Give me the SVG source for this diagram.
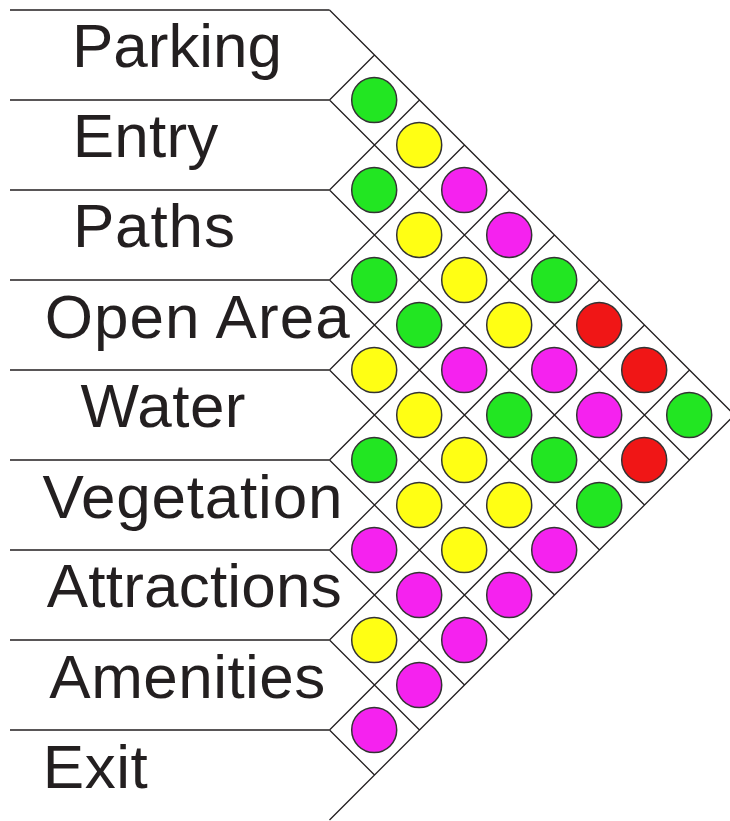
<svg xmlns="http://www.w3.org/2000/svg" width="730" height="821" viewBox="0 0 730 821">
<style>
.bg{fill:#ffffff}
.ln{stroke:#231f20;stroke-width:1.3;fill:none}
.lbl{font-family:"Liberation Sans",Arial,sans-serif;font-size:62px;fill:#231f20}
.c{stroke:#333333;stroke-width:1.5}
.G{fill:#22e622}
.Y{fill:#ffff14}
.M{fill:#f522ef}
.R{fill:#f01616}
</style>
<rect class="bg" x="0" y="0" width="730" height="821"/>
<g id="connectors">
<path class="ln" d="M10 10H329.5M10 100H329.5M10 190H329.5M10 280H329.5M10 370H329.5M10 460H329.5M10 550H329.5M10 640H329.5M10 730H329.5"/>
<path class="ln" d="M329.5 10L734.5 415L329.5 820
M329.5 100L689.5 460M329.5 190L644.5 505M329.5 280L599.5 550M329.5 370L554.5 595M329.5 460L509.5 640M329.5 550L464.5 685M329.5 640L419.5 730M329.5 730L374.5 775
M329.5 100L374.5 55M329.5 190L419.5 100M329.5 280L464.5 145M329.5 370L509.5 190M329.5 460L554.5 235M329.5 550L599.5 280M329.5 640L644.5 325M329.5 730L689.5 370"/>
</g>
<g id="label-parking"><text class="lbl" x="72" y="66.7" textLength="210">Parking</text></g>
<g id="label-entry"><text class="lbl" x="72.8" y="156.7" textLength="145.5">Entry</text></g>
<g id="label-paths"><text class="lbl" x="72.9" y="246.7" textLength="162">Paths</text></g>
<g id="label-open-area"><text class="lbl" x="44.7" y="338.3" textLength="305">Open Area</text></g>
<g id="label-water"><text class="lbl" x="80.5" y="426.7" textLength="165">Water</text></g>
<g id="label-vegetation"><text class="lbl" x="42.4" y="518.3" textLength="300">Vegetation</text></g>
<g id="label-attractions"><text class="lbl" x="46.7" y="606.7" textLength="295">Attractions</text></g>
<g id="label-amenities"><text class="lbl" x="49.3" y="698.3" textLength="276">Amenities</text></g>
<g id="label-exit"><text class="lbl" x="42.8" y="788.3" textLength="105">Exit</text></g>
<g id="cells">
<g id="c01"><circle class="c G" cx="374.2" cy="100" r="22.5"/></g>
<g id="c12"><circle class="c G" cx="374.2" cy="190" r="22.5"/></g>
<g id="c23"><circle class="c G" cx="374.2" cy="280" r="22.5"/></g>
<g id="c34"><circle class="c Y" cx="374.2" cy="370" r="22.5"/></g>
<g id="c45"><circle class="c G" cx="374.2" cy="460" r="22.5"/></g>
<g id="c56"><circle class="c M" cx="374.2" cy="550" r="22.5"/></g>
<g id="c67"><circle class="c Y" cx="374.2" cy="640" r="22.5"/></g>
<g id="c78"><circle class="c M" cx="374.2" cy="730" r="22.5"/></g>
<g id="c02"><circle class="c Y" cx="419.2" cy="145" r="22.5"/></g>
<g id="c13"><circle class="c Y" cx="419.2" cy="235" r="22.5"/></g>
<g id="c24"><circle class="c G" cx="419.2" cy="325" r="22.5"/></g>
<g id="c35"><circle class="c Y" cx="419.2" cy="415" r="22.5"/></g>
<g id="c46"><circle class="c Y" cx="419.2" cy="505" r="22.5"/></g>
<g id="c57"><circle class="c M" cx="419.2" cy="595" r="22.5"/></g>
<g id="c68"><circle class="c M" cx="419.2" cy="685" r="22.5"/></g>
<g id="c03"><circle class="c M" cx="464.2" cy="190" r="22.5"/></g>
<g id="c14"><circle class="c Y" cx="464.2" cy="280" r="22.5"/></g>
<g id="c25"><circle class="c M" cx="464.2" cy="370" r="22.5"/></g>
<g id="c36"><circle class="c Y" cx="464.2" cy="460" r="22.5"/></g>
<g id="c47"><circle class="c Y" cx="464.2" cy="550" r="22.5"/></g>
<g id="c58"><circle class="c M" cx="464.2" cy="640" r="22.5"/></g>
<g id="c04"><circle class="c M" cx="509.2" cy="235" r="22.5"/></g>
<g id="c15"><circle class="c Y" cx="509.2" cy="325" r="22.5"/></g>
<g id="c26"><circle class="c G" cx="509.2" cy="415" r="22.5"/></g>
<g id="c37"><circle class="c Y" cx="509.2" cy="505" r="22.5"/></g>
<g id="c48"><circle class="c M" cx="509.2" cy="595" r="22.5"/></g>
<g id="c05"><circle class="c G" cx="554.2" cy="280" r="22.5"/></g>
<g id="c16"><circle class="c M" cx="554.2" cy="370" r="22.5"/></g>
<g id="c27"><circle class="c G" cx="554.2" cy="460" r="22.5"/></g>
<g id="c38"><circle class="c M" cx="554.2" cy="550" r="22.5"/></g>
<g id="c06"><circle class="c R" cx="599.2" cy="325" r="22.5"/></g>
<g id="c17"><circle class="c M" cx="599.2" cy="415" r="22.5"/></g>
<g id="c28"><circle class="c G" cx="599.2" cy="505" r="22.5"/></g>
<g id="c07"><circle class="c R" cx="644.2" cy="370" r="22.5"/></g>
<g id="c18"><circle class="c R" cx="644.2" cy="460" r="22.5"/></g>
<g id="c08"><circle class="c G" cx="689.2" cy="415" r="22.5"/></g>
</g>
</svg>
